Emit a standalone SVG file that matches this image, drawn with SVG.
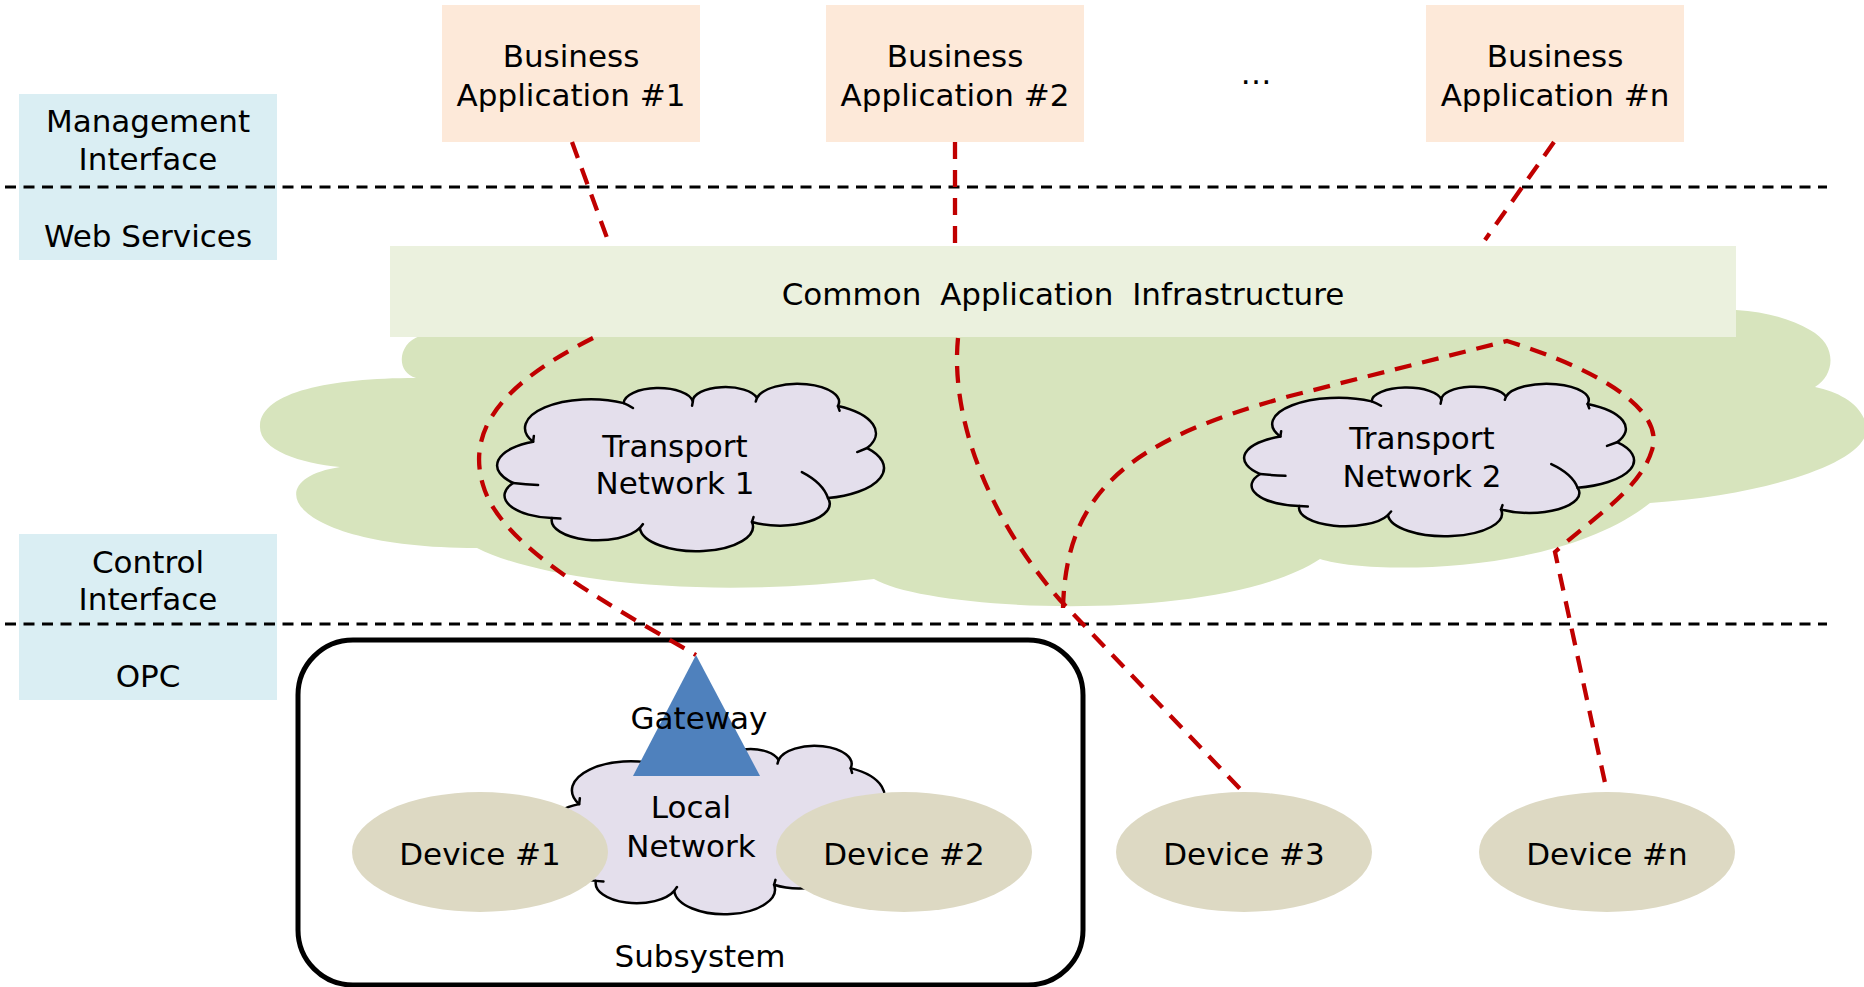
<svg xmlns="http://www.w3.org/2000/svg" xmlns:xlink="http://www.w3.org/1999/xlink" width="1864" height="987" viewBox="0 0 1864 987">
<style>
text{font-family:"DejaVu Sans",Verdana,"Liberation Sans",sans-serif;font-size:31px;fill:#000;text-anchor:middle}
.lbl{fill:#DAEEF3}
.biz{fill:#FDE9D9}
.layer{stroke:#000;stroke-width:3;stroke-dasharray:11 7.5;fill:none}
.conn{stroke:#C00000;stroke-width:4.3;stroke-dasharray:17 11;fill:none}
.dev{fill:#DDD9C3}
.cloud-fill{fill:#E4DFEC;stroke:#000;stroke-width:2.5;vector-effect:non-scaling-stroke;stroke-linejoin:round}
.cloud-hook{fill:none;stroke:#000;stroke-width:2.5;vector-effect:non-scaling-stroke;stroke-linecap:round}
</style>
<defs>
<g id="cloud">
<path class="cloud-fill" d="M9.4 35 A17.1 17.1 0 0 1 33 12 A9.03 9.03 0 0 1 51 11 A8.47 8.47 0 0 1 67.7 8.9 A10.8 10.8 0 0 1 88.8 13.7 A18.2 18.2 0 0 1 96.4 38.7 A18.3 18.3 0 0 1 86.2 68.5 A13 13 0 0 1 66.4 82.7 A14.74 14.74 0 1 1 37.2 86.3 A11.95 11.95 0 0 1 14.3 80.4 A13.5 13.5 0 0 1 4.2 59.5 A15.2 15.2 0 0 1 9.4 35 Z"/>
<path class="cloud-hook" d="M9.4 35 L9.6 31.5 M33 12 Q34.3 13.2 35.4 14.9 M51 11 L50.8 13.5 M67.7 8.9 L67.4 11 M88.8 13.7 L89.2 16.5 M96.4 38.7 L93.8 41.1 M86.2 68.5 Q84.9 59.5 79.4 53 M66.4 82.7 L66.8 79.8 M37.2 86.3 L38 84 M14.3 80.4 L16.5 80.7 M4.2 59.5 Q7.5 60.3 10.7 60.7"/>
</g>
</defs>
<rect width="1864" height="987" fill="#fff"/>

<g id="management-interface">
<rect class="lbl" x="19" y="94" width="258" height="166"/>
<text x="148" y="132">Management</text>
<text x="148" y="170">Interface</text>
<text x="148" y="247">Web Services</text>
</g>
<g id="control-interface">
<rect class="lbl" x="19" y="534" width="258" height="166"/>
<text x="148" y="573">Control</text>
<text x="148" y="610">Interface</text>
<text x="148" y="687">OPC</text>
</g>

<g id="layer-lines">
<line class="layer" x1="5" y1="187" x2="1827" y2="187"/>
<line class="layer" x1="5" y1="624" x2="1827" y2="624"/>
</g>

<g id="business-app-1">
<rect class="biz" x="442" y="5" width="258" height="137"/>
<text x="571" y="67">Business</text>
<text x="571" y="106">Application #1</text>
</g>
<g id="business-app-2">
<rect class="biz" x="826" y="5" width="258" height="137"/>
<text x="955" y="67">Business</text>
<text x="955" y="106">Application #2</text>
</g>
<g id="ellipsis">
<text x="1256" y="84">…</text>
</g>
<g id="business-app-n">
<rect class="biz" x="1426" y="5" width="258" height="137"/>
<text x="1555" y="67">Business</text>
<text x="1555" y="106">Application #n</text>
</g>

<g id="network-cloud">
<path fill="#D7E4BD" d="M420 300 L420 336 C398 343 395 372 416 378 C330 378 262 392 260 425 C258 450 300 463 340 467 C255 480 290 548 477 548 C540 580 700 600 874 579 C930 612 1220 625 1320 559 C1370 575 1560 575 1650 503 C1770 495 1875 460 1866 425 C1862 405 1840 392 1815 387 C1835 375 1838 345 1810 330 C1790 318 1765 312 1736 310 L1736 300 Z"/>
</g>

<g id="common-application-infrastructure">
<rect x="390" y="246" width="1346" height="91" fill="#EBF1DE"/>
<text x="1063" y="305" word-spacing="9">Common Application Infrastructure</text>
</g>

<g id="transport-network-1">
<use xlink:href="#cloud" href="#cloud" transform="translate(497,383) scale(3.84,1.68)"/>
<text x="675" y="457">Transport</text>
<text x="675" y="494">Network 1</text>
</g>
<g id="transport-network-2">
<use xlink:href="#cloud" href="#cloud" transform="translate(1244,383) scale(3.87,1.53)"/>
<text x="1422" y="449">Transport</text>
<text x="1422" y="487">Network 2</text>
</g>

<g id="subsystem">
<rect x="298" y="640" width="785" height="345" rx="55" ry="55" fill="#fff" stroke="#000" stroke-width="5"/>
<text x="700" y="967">Subsystem</text>
</g>
<g id="local-network">
<use xlink:href="#cloud" href="#cloud" transform="translate(547,745) scale(3.42,1.69)"/>
<text x="691" y="818">Local</text>
<text x="691" y="857">Network</text>
</g>
<g id="gateway">
<polygon points="696,655 633,776 760,776" fill="#4F81BD"/>
<text x="699" y="729">Gateway</text>
</g>
<g id="device-1">
<ellipse class="dev" cx="480" cy="852" rx="128" ry="60"/>
<text x="480" y="865">Device #1</text>
</g>
<g id="device-2">
<ellipse class="dev" cx="904" cy="852" rx="128" ry="60"/>
<text x="904" y="865">Device #2</text>
</g>
<g id="device-3">
<ellipse class="dev" cx="1244" cy="852" rx="128" ry="60"/>
<text x="1244" y="865">Device #3</text>
</g>
<g id="device-n">
<ellipse class="dev" cx="1607" cy="852" rx="128" ry="60"/>
<text x="1607" y="865">Device #n</text>
</g>

<g id="connectors">
<path class="conn" d="M572 142 L610 246"/>
<path class="conn" d="M593 338 C510 380 465 425 483 485 C500 545 600 600 696 655"/>
<path class="conn" d="M955 142 L955 246"/>
<path class="conn" d="M958 338 C950 420 990 520 1060 600 L1243 792"/>
<path class="conn" d="M1554 142 L1485 240"/>
<path class="conn" d="M1063 608 C1066 490 1130 440 1290 396 L1507 341 C1600 370 1665 410 1652 450 C1640 490 1590 520 1555 552 L1607 792"/>
</g>
</svg>
